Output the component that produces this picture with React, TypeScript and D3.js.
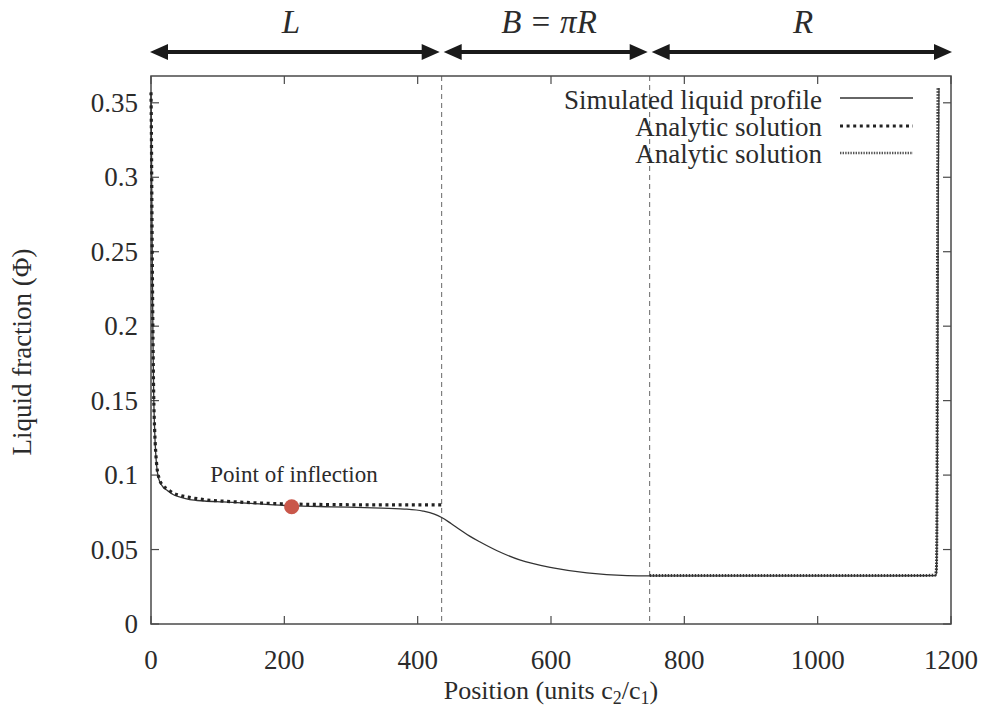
import React from "react";
import * as d3 from "d3";

const simX = [0, 0.6, 1.2, 2, 3, 4, 5.5, 7, 9, 12, 18, 25, 33, 45, 58, 80, 108, 150, 208, 270, 333, 380, 408, 425, 436, 450, 463, 478, 493, 520, 553, 603, 654, 714, 748, 850, 1000, 1100, 1176, 1178, 1179, 1180, 1181, 1182];
const simY = [0.357, 0.33, 0.29, 0.24, 0.19, 0.155, 0.13, 0.115, 0.104, 0.097, 0.092, 0.0895, 0.087, 0.085, 0.0835, 0.0826, 0.082, 0.081, 0.0795, 0.0787, 0.078, 0.0772, 0.0758, 0.0738, 0.0715, 0.0675, 0.0635, 0.059, 0.0552, 0.049, 0.043, 0.0377, 0.0343, 0.0325, 0.0323, 0.0323, 0.0323, 0.0323, 0.0325, 0.034, 0.06, 0.16, 0.3, 0.36];

const an1X = [0, 0.6, 1.2, 2, 3, 4, 5.5, 7, 9, 12, 18, 25, 33, 45, 58, 80, 108, 150, 208, 270, 333, 400, 436];
const an1Y = [0.357, 0.33, 0.29, 0.24, 0.19, 0.155, 0.13, 0.116, 0.105, 0.098, 0.093, 0.0905, 0.088, 0.0862, 0.085, 0.0835, 0.0825, 0.0815, 0.0806, 0.0802, 0.08, 0.08, 0.08];

const an2X = [748, 850, 1000, 1100, 1176, 1178, 1179, 1179.5, 1180, 1180.5];
const an2Y = [0.0325, 0.0325, 0.0325, 0.0325, 0.0327, 0.036, 0.08, 0.2, 0.3, 0.36];

const xTicks = [0, 200, 400, 600, 800, 1000, 1200];
const yTicks = [0, 0.05, 0.1, 0.15, 0.2, 0.25, 0.3, 0.35];
const yTickLabels = ["0", "0.05", "0.1", "0.15", "0.2", "0.25", "0.3", "0.35"];
const dividers = [436, 748];
const inflection = { x: 211, y: 0.0787 };
const regionEdges = [0, 436, 748, 1200];
const legendLabels = ["Simulated liquid profile", "Analytic solution", "Analytic solution"];

const FONT = "Liberation Serif, Times New Roman, Times, DejaVu Serif, serif";
const INK = "#2b2b2b";
const AX = "#4a4a4a";

export default function App() {
  const W = 988, H = 712;
  const x = d3.scaleLinear().domain([0, 1200]).range([151, 951]);
  const y = d3.scaleLinear().domain([0, 0.368]).range([624, 76]);
  const line = d3.line<[number, number]>().x(d => x(d[0])).y(d => y(d[1])).curve(d3.curveMonotoneX);
  const simPath = line(simX.map((v, i) => [v, simY[i]]) as [number, number][]) || "";
  const an1Path = line(an1X.map((v, i) => [v, an1Y[i]]) as [number, number][]) || "";
  const an2Path = line(an2X.map((v, i) => [v, an2Y[i]]) as [number, number][]) || "";
  const [x0, x1] = x.range();
  const [yb, yt] = y.range();
  const tl = 8;
  const arrowY = 52;
  const gap = 2;
  const topLabels = [
    { t: "L", c: 291 },
    { t: "B = πR", c: 549 },
    { t: "R", c: 803 },
  ];
  const arrow = (a: number, b: number, k: number) => {
    const hl = 18, hw = 8;
    return (
      <g key={k}>
        <line x1={a + hl - 2} x2={b - hl + 2} y1={arrowY} y2={arrowY} stroke="#1a1a1a" strokeWidth={4} />
        <path d={`M${a},${arrowY} L${a + hl},${arrowY - hw} L${a + hl},${arrowY + hw} Z`} fill="#1a1a1a" />
        <path d={`M${b},${arrowY} L${b - hl},${arrowY - hw} L${b - hl},${arrowY + hw} Z`} fill="#1a1a1a" />
      </g>
    );
  };
  return (
    <svg width={W} height={H} style={{ display: "block", position: "absolute", left: 0, top: 0, background: "#fff", fontFamily: FONT }}>
      <rect x={0} y={0} width={W} height={H} fill="#fff" />
      {regionEdges.slice(0, 3).map((e, i) => {
        const a = x(e) + (i === 0 ? -1 : gap);
        const b = x(regionEdges[i + 1]) - (i === 2 ? -1 : gap);
        return arrow(a, b, i);
      })}
      {topLabels.map((l, i) => (
        <text key={i} x={l.c} y={33} textAnchor="middle" fontSize={33} fontStyle="italic" fill={INK} style={{ fontFamily: FONT }}>{l.t}</text>
      ))}
      {dividers.map((d, i) => (
        <line key={i} x1={x(d)} x2={x(d)} y1={yt} y2={yb} stroke="#666" strokeWidth={1} strokeDasharray="5,4" />
      ))}
      <rect x={x0} y={yt} width={x1 - x0} height={yb - yt} fill="none" stroke={AX} strokeWidth={1.5} />
      {xTicks.map((t, i) => (
        <g key={i}>
          <line x1={x(t)} x2={x(t)} y1={yb} y2={yb - tl} stroke={AX} strokeWidth={1.2} />
          <line x1={x(t)} x2={x(t)} y1={yt} y2={yt + tl} stroke={AX} strokeWidth={1.2} />
          <text x={x(t)} y={669} textAnchor="middle" fontSize={27} fill={INK} style={{ fontFamily: FONT }}>{t}</text>
        </g>
      ))}
      {yTicks.map((t, i) => (
        <g key={i}>
          <line x1={x0} x2={x0 + tl} y1={y(t)} y2={y(t)} stroke={AX} strokeWidth={1.2} />
          <line x1={x1} x2={x1 - tl} y1={y(t)} y2={y(t)} stroke={AX} strokeWidth={1.2} />
          <text x={138} y={y(t) + 9} textAnchor="end" fontSize={27} fill={INK} style={{ fontFamily: FONT }}>{yTickLabels[i]}</text>
        </g>
      ))}
      <path d={an2Path} fill="none" stroke="#3a3a3a" strokeWidth={3} strokeDasharray="1.6,1.4" />
      <path d={simPath} fill="none" stroke="#333" strokeWidth={1.3} />
      <path d={an1Path} fill="none" stroke="#222" strokeWidth={3.2} strokeDasharray="3,3.6" />
      <circle cx={x(inflection.x)} cy={y(inflection.y)} r={7.5} fill="#c9574a" />
      <text x={294} y={482} textAnchor="middle" fontSize={23} fill={INK} style={{ fontFamily: FONT }}>Point of inflection</text>
      {legendLabels.map((l, i) => {
        const cy = 100 + i * 27;
        return (
          <g key={i}>
            <text x={822} y={cy + 9} textAnchor="end" fontSize={27} fill={INK} style={{ fontFamily: FONT }}>{l}</text>
            {i === 0 && <line x1={840} x2={913} y1={cy - 2} y2={cy - 2} stroke="#333" strokeWidth={1.3} />}
            {i === 1 && <line x1={840} x2={913} y1={cy - 1} y2={cy - 1} stroke="#222" strokeWidth={3.2} strokeDasharray="3,3.6" />}
            {i === 2 && <line x1={840} x2={913} y1={cy - 1} y2={cy - 1} stroke="#555" strokeWidth={2.6} strokeDasharray="1.4,1.2" />}
          </g>
        );
      })}
      <text x={551} y={699} textAnchor="middle" fontSize={26} fill={INK} style={{ fontFamily: FONT }}>
        Position (units c<tspan dy={5} fontSize={18}>2</tspan><tspan dy={-5}>/c</tspan><tspan dy={5} fontSize={18}>1</tspan><tspan dy={-5}>)</tspan>
      </text>
      <text transform="translate(31,352) rotate(-90)" textAnchor="middle" fontSize={27} fill={INK} style={{ fontFamily: FONT }}>Liquid fraction (Φ)</text>
    </svg>
  );
}
